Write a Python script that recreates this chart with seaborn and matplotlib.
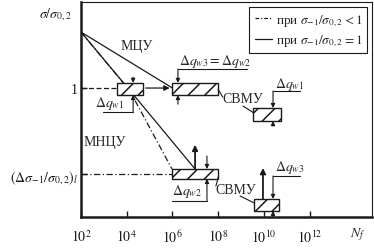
import numpy as np
import pandas as pd
import matplotlib
matplotlib.use("Agg")
import matplotlib.pyplot as plt
import seaborn as sns
from matplotlib.patches import Rectangle

# curves, x given as log10(N_f), y as sigma/sigma_0.2
mcu_lg = [2, 6]
mcu_y = [1.434, 1.0]
steep_lg = [2, 4.14, 5.98]       # dash-dot, sigma_-1/sigma_0.2 < 1
steep_y = [1.434, 0.977, 0.372]
mncu_lg = [2, 4.45, 6.99]        # solid, sigma_-1/sigma_0.2 = 1
mncu_y = [1.434, 0.915, 0.372]
level_hi = 1.0
level_lo = 0.333

# hatched blocks: (lg left, lg right, y bottom, y top)
blocks = [
    (3.58, 4.71, 0.946, 1.04),
    (6.0, 8.0, 0.946, 1.04),
    (9.53, 10.75, 0.744, 0.845),
    (6.0, 8.0, 0.295, 0.372),
    (9.57, 10.67, 0.047, 0.14),
]

xtick_exp = [2, 4, 6, 8, 10, 12]

sns.set_theme(style="white")
plt.rcParams["font.family"] = ["Liberation Serif", "DejaVu Serif"]
plt.rcParams["mathtext.fontset"] = "stix"
plt.rcParams["hatch.linewidth"] = 1.1

fig = plt.figure(figsize=(3.74, 2.53), dpi=100)
ax = fig.add_axes([81 / 374, 35 / 253, 291 / 374, 215 / 253])
N = lambda e: 10.0 ** np.asarray(e, dtype=float)

df = pd.concat([
    pd.DataFrame({"N": N(mcu_lg), "y": mcu_y, "curve": "mcu"}),
    pd.DataFrame({"N": N(mncu_lg), "y": mncu_y, "curve": "mncu"}),
])
sns.lineplot(data=df, x="N", y="y", units="curve", estimator=None, color="k",
             lw=0.9, ax=ax, legend=False, sort=False)
sns.lineplot(x=N(steep_lg), y=steep_y, color="k", lw=0.9, ax=ax,
             linestyle=(0, (5, 2, 1, 2)), sort=False)

# horizontal reference levels
ax.plot(N([2, blocks[0][0]]), [level_hi] * 2, color="k", lw=0.9, ls=(0, (4, 2)))
ax.plot(N([2, blocks[3][0]]), [level_lo] * 2, color="k", lw=0.9, ls=(0, (5, 2, 1, 2)))
ax.annotate("", xy=(N(blocks[1][0]), level_hi), xytext=(N(blocks[0][1]), level_hi),
            arrowprops=dict(arrowstyle="-|>", color="k", lw=0.9, mutation_scale=8))

for x0, x1, y0, y1 in blocks:
    ax.add_patch(Rectangle((N(x0), y0), N(x1) - N(x0), y1 - y0, facecolor="white",
                           edgecolor="k", lw=1.0, hatch="//", zorder=3))

def arrow(x, yfrom, yto, lw=0.8, ms=6):
    ax.annotate("", xy=(N(x), yto), xytext=(N(x), yfrom), zorder=4,
                arrowprops=dict(arrowstyle="-|>", color="k", lw=lw,
                                mutation_scale=ms, shrinkA=0, shrinkB=0))

def seg(xs, ys):
    ax.plot(N(xs), ys, color="k", lw=0.8, zorder=4)

# block 1
arrow(4.28, 1.085, 1.04)
arrow(4.28, 0.814, 0.946)
seg([2.96, 4.28], [0.814, 0.814])
ax.text(N(2.6), 0.885, r"$\Delta q_{w1}$", fontsize=10, va="center")
# block 2
arrow(6.24, 1.147, 1.04)
arrow(6.24, 0.875, 0.946)
seg([6.24, 9.26], [1.147, 1.147])
ax.text(N(6.3), 1.215, r"$\Delta q_{w3}=\Delta q_{w2}$", fontsize=10, va="center")
# upper SVMU
seg([8.0, 8.1, 8.2], [0.99, 0.96, 0.93])
seg([9.09, 9.53], [0.86, 0.81])
ax.text(N(8.2), 0.915, "СВМУ", fontsize=10, va="center")
# block 3
arrow(10.4, 0.977, 0.845)
arrow(10.4, 0.705, 0.744)
seg([10.4, 11.58], [0.977, 0.977])
ax.text(N(10.5), 1.035, r"$\Delta q_{w1}$", fontsize=10, va="center")
# block 4
arrow(6.99, 0.372, 0.56, lw=1.3, ms=8)
arrow(7.51, 0.473, 0.372)
arrow(7.51, 0.124, 0.295)
seg([5.98, 7.51], [0.124, 0.124])
ax.text(N(5.98), 0.205, r"$\Delta q_{w2}$", fontsize=10, va="center")
# lower SVMU
seg([8.0, 7.95, 7.9], [0.31, 0.27, 0.24])
seg([8.96, 9.57], [0.163, 0.109])
ax.text(N(7.86), 0.215, "СВМУ", fontsize=10, va="center")
# block 5
arrow(9.96, 0.14, 0.38, lw=1.3, ms=8)
arrow(10.4, 0.318, 0.14)
arrow(10.4, 0.0, 0.047)
seg([10.4, 11.58], [0.318, 0.318])
ax.text(N(10.5), 0.395, r"$\Delta q_{w3}$", fontsize=10, va="center")

ax.text(N(3.71), 1.333, "МЦУ", fontsize=10, va="center")
ax.text(N(2.13), 0.589, "МНЦУ", fontsize=10, va="center")

# legend
ax.plot([], [], color="k", lw=0.9, ls=(0, (3, 1.5, 1, 1.5)),
        label=r"при $\sigma_{-1}/\sigma_{0,2} < 1$")
ax.plot([], [], color="k", lw=0.9, label=r"при $\sigma_{-1}/\sigma_{0,2} = 1$")
leg = ax.legend(loc="upper right", fontsize=9.5, handlelength=1.3, handletextpad=0.3,
                borderaxespad=0.35, fancybox=False, framealpha=1, borderpad=0.4,
                labelspacing=0.35)
leg.get_frame().set_edgecolor("k")
leg.get_frame().set_linewidth(0.8)

ax.set_xscale("log")
ax.set_xlim(N(2), N(14.73))
ax.set_ylim(0, 1.667)
ax.set_xticks(N(xtick_exp))
ax.set_xticklabels([rf"$10^{{{e}}}$" for e in xtick_exp], fontsize=10)
ax.xaxis.set_minor_locator(matplotlib.ticker.NullLocator())
ax.set_yticks([level_lo, level_hi])
ax.set_yticklabels([r"$(\Delta\sigma_{-1}/\sigma_{0,2})_l$", "1"], fontsize=10)
ax.tick_params(axis="both", direction="in", length=4, width=1, colors="k", pad=2,
               bottom=True, left=True)
ax.tick_params(axis="x", pad=8)
ax.set_xlabel("")
ax.set_ylabel("")
ax.text(-0.03, 1.58, r"$\sigma/\sigma_{0,2}$", transform=ax.get_yaxis_transform(),
        ha="right", va="center", fontsize=10)
ax.text(N(14.1), -0.13, r"$N_f$", fontsize=10, ha="center", va="center")
for s in ax.spines.values():
    s.set_color("k")
    s.set_linewidth(0.8)
ax.spines["left"].set_linewidth(1.8)
ax.spines["bottom"].set_linewidth(1.8)

fig.savefig("out.png", dpi=100)
